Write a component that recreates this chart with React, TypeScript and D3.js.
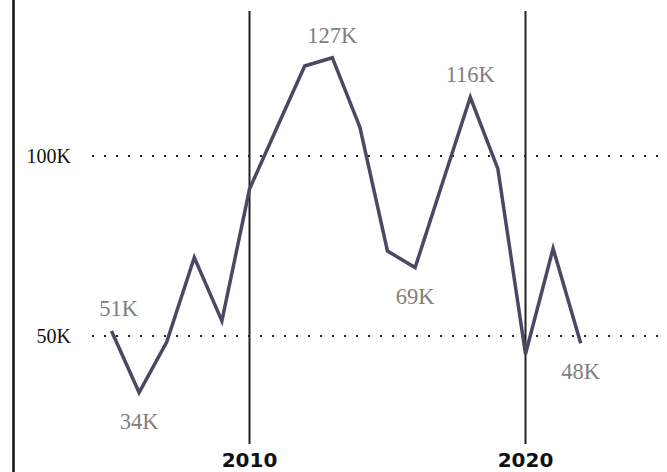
import { useEffect, useRef } from "react";
import * as d3 from "d3";

const years = [
  2005, 2006, 2007, 2008, 2009, 2010, 2011, 2012, 2013, 2014, 2015, 2016,
  2017, 2018, 2019, 2020, 2021, 2022,
];
const values = [
  51.4, 34.3, 48.3, 71.8, 54.2, 90.8, 108, 125, 127.3, 108, 73.6, 69,
  92.7, 116.3, 96.4, 45, 74.3, 48,
];
const yTicks = [50, 100];
const yearTicks = [2010, 2020];
// which points carry a value label, and on which side of the line
const labelYears = [2005, 2006, 2013, 2016, 2018, 2022];
const labelSide = ["above", "below", "above", "below", "above", "below"];

const fmt = (v: number) => `${Math.round(v)}K`;

export default function App() {
  const ref = useRef<SVGSVGElement>(null);

  useEffect(() => {
    if (!ref.current) return;
    const width = 667;
    const height = 472;

    const svg = d3.select(ref.current);
    svg.selectAll("*").remove();
    svg.attr("width", width).attr("height", height);

    const x = d3.scaleLinear().domain([2010, 2020]).range([249.5, 525.5]);
    const y = d3.scaleLinear().domain([50, 100]).range([336, 156]);

    // left frame edge
    svg
      .append("line")
      .attr("x1", 13.5)
      .attr("x2", 13.5)
      .attr("y1", 0)
      .attr("y2", height)
      .attr("stroke", "#111")
      .attr("stroke-width", 2.5);

    // dotted horizontal reference lines
    svg
      .append("g")
      .selectAll("line")
      .data(yTicks)
      .enter()
      .append("line")
      .attr("x1", 92)
      .attr("x2", width)
      .attr("y1", (d) => y(d))
      .attr("y2", (d) => y(d))
      .attr("stroke", "#222")
      .attr("stroke-width", 2)
      .attr("stroke-dasharray", "2,10");

    svg
      .append("g")
      .selectAll("text")
      .data(yTicks)
      .enter()
      .append("text")
      .attr("x", 71)
      .attr("y", (d) => y(d) + 7)
      .attr("text-anchor", "end")
      .attr("font-family", "'Liberation Serif', 'Times New Roman', serif")
      .attr("font-size", 20)
      .attr("fill", "#111")
      .text((d) => `${d}K`);

    // vertical year markers
    svg
      .append("g")
      .selectAll("line")
      .data(yearTicks)
      .enter()
      .append("line")
      .attr("x1", (d) => x(d))
      .attr("x2", (d) => x(d))
      .attr("y1", 11)
      .attr("y2", 444)
      .attr("stroke", "#222")
      .attr("stroke-width", 2);

    svg
      .append("g")
      .selectAll("text")
      .data(yearTicks)
      .enter()
      .append("text")
      .attr("x", (d) => x(d))
      .attr("y", 467)
      .attr("text-anchor", "middle")
      .attr("font-family", "'DejaVu Sans', Verdana, sans-serif")
      .attr("font-weight", "bold")
      .attr("font-size", 20)
      .attr("fill", "#111")
      .text((d) => String(d));

    const line = d3
      .line<number>()
      .x((_, i) => x(years[i]))
      .y((d) => y(d));

    svg
      .append("path")
      .datum(values)
      .attr("d", line)
      .attr("fill", "none")
      .attr("stroke", "#4a4963")
      .attr("stroke-width", 3.5)
      .attr("stroke-linejoin", "miter");

    svg
      .append("g")
      .selectAll("text")
      .data(labelYears)
      .enter()
      .append("text")
      .attr("x", (d) => x(d) + (d === 2005 ? 7 : 0))
      .attr("y", (d, i) => {
        const v = values[years.indexOf(d)];
        return labelSide[i] === "above" ? y(v) - 15 : y(v) + 36;
      })
      .attr("text-anchor", "middle")
      .attr("font-family", "'Liberation Serif', 'Times New Roman', serif")
      .attr("font-size", 22.5)
      .attr("fill", "#7f7f7f")
      .text((d) => fmt(values[years.indexOf(d)]));
  }, []);

  return (
    <div style={{ position: "fixed", left: 0, top: 0, background: "#fff" }}>
      <svg ref={ref} style={{ display: "block" }} />
    </div>
  );
}
